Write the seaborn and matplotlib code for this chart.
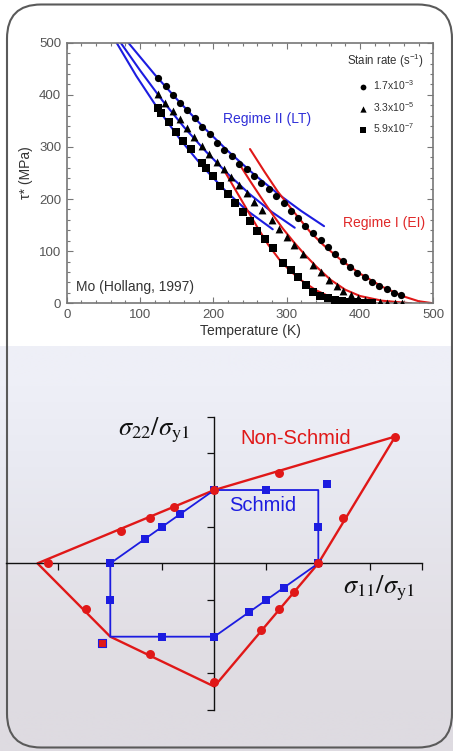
import numpy as np
import matplotlib
matplotlib.use('Agg')
import matplotlib.pyplot as plt
import seaborn as sns
from matplotlib.patches import FancyBboxPatch, Rectangle
from matplotlib.ticker import MultipleLocator
from matplotlib.colors import to_rgb

# ---------------- data : top panel (Mo, Hollang 1997) ----------------
temp_fast = [125, 135, 144.5, 155, 164.5, 175.5, 185, 195, 205, 215,
             225.5, 235.5, 245.5, 255.5, 265.5, 275.5, 286, 296, 306, 316,
             325.5, 336.5, 346.5, 356.5, 366.5, 376.5, 386.5, 396.5, 406.5, 416.5,
             426.5, 436.5, 446.5, 456.5]
tau_fast = [432, 417, 400, 385, 370, 355, 339, 324, 308, 295,
            282, 268, 257, 244, 231, 219, 206, 192, 178, 163,
            149, 134, 121, 108, 95, 81, 69, 59, 50, 40,
            33, 27, 20, 16]

temp_mid = [124, 134, 144.5, 154.5, 164.5, 174, 184.5, 194.5, 204.5, 214.5,
            224.5, 234.5, 245.5, 255.5, 266.5, 280, 290, 300, 310, 322,
            335.5, 346.5, 357.5, 368, 377.5, 387.5, 397.5, 407.5, 417.5, 427.5,
            437.5, 447.5, 457.5]
tau_mid = [401, 384, 369, 353, 337, 320, 302, 286, 271, 257,
           243, 227, 212, 195, 179, 159, 142, 128, 112, 95,
           74, 61, 45, 33, 24, 16, 11, 6, 3, 2,
           1.5, 1.5, 1.5]

temp_slow = [124, 129, 139, 149, 159, 169, 184.5, 190, 200, 209,
             219.5, 230, 240, 250, 259.5, 270.5, 281, 295.5, 305.5, 316,
             326, 336, 346, 356, 366, 376, 386, 396, 406, 416]
tau_slow = [374, 366, 348, 328, 312, 296, 270, 260, 244, 226,
            210, 193, 175, 157, 139, 123, 106, 78, 64, 50,
            35, 22, 14, 11, 6, 5, 3, 2, 1.5, 1.5]

rate_labels = ['1.7x10$^{-3}$', '3.3x10$^{-5}$', '5.9x10$^{-7}$']

# Regime II (LT) fits
lt_fast_T = [84, 120, 150, 185, 220, 255, 290, 320, 351]
lt_fast_tau = [500, 439, 392, 340, 292, 248, 208, 177, 148]
lt_mid_T = [73.6, 100, 130, 160, 190, 220, 250, 280, 311]
lt_mid_tau = [500, 447, 390, 338, 291, 248, 209, 175, 145]
lt_slow_T = [68, 95, 125, 155, 185, 215, 245, 281]
lt_slow_tau = [500, 436, 372, 314, 263, 218, 179, 142]

# Regime I (EI) fits
ei_fast_T = [250, 270, 288, 310, 332, 350, 375, 400, 430, 460, 480, 500]
ei_fast_tau = [296, 252, 214, 175, 137, 112, 82, 57, 32, 13, 4, 0]
ei_mid_T = [236, 250, 265, 280, 295, 310, 325, 340, 360, 380, 400, 430, 470]
ei_mid_tau = [266, 235, 203, 172, 143, 117, 93, 71, 45, 26, 14, 5, 0]
ei_slow_T = [216, 230, 245, 260, 275, 290, 305, 320, 340, 360, 385, 423]
ei_slow_tau = [252, 218, 182, 146, 112, 84, 62, 44, 25, 12, 4, 0]

temp_ticks = [0, 100, 200, 300, 400, 500]
tau_ticks = [0, 100, 200, 300, 400, 500]

# ---------------- data : bottom panel (yield surfaces) ----------------
schmid_x = [0, 1, 1, 0, -1, -1, 0]
schmid_y = [1, 1, 0, -1, -1, 0, 1]
schmid_pts_x = [0, 0.5, 1, 1, 0.67, 0.5, 0.33, 0, -0.5, -1, -1, -0.67, -0.5, -0.33, 1.08]
schmid_pts_y = [1, 1, 0.5, 0, -0.33, -0.5, -0.67, -1, -1, -0.5, 0, 0.33, 0.5, 0.67, 1.08]

nonschmid_x = [0, 1.74, 1, 0, -1, -1.70, 0]
nonschmid_y = [1, 1.73, 0, -1.68, -1, 0, 1]
nonschmid_pts_x = [0, 0.625, 1.737, 1.24, 1, 0.77, 0.625, 0.452, 0, -0.619, -1.237, -1.596, -0.897, -0.619, -0.385]
nonschmid_pts_y = [1, 1.236, 1.727, 0.614, 0, -0.386, -0.627, -0.909, -1.614, -1.236, -0.627, 0, 0.445, 0.614, 0.764]
nonschmid_sq_x = [-1.083]
nonschmid_sq_y = [-1.09]

stress_xticks = [-1.5, -0.5, 0.5, 1.5, 2]
stress_yticks = [-2, -1.5, -0.5, 0.5, 1.5, 2]

# ---------------- style ----------------
sns.set_style('ticks')
plt.rcParams['font.family'] = ['Liberation Sans', 'DejaVu Sans']
plt.rcParams['mathtext.fontset'] = 'custom'
plt.rcParams['mathtext.rm'] = 'Liberation Sans'
plt.rcParams['mathtext.it'] = 'Liberation Sans:italic'
plt.rcParams['mathtext.bf'] = 'Liberation Sans:bold'

BLUE = '#1c1ce0'
RED = '#e01818'

W, H = 453, 751
fig = plt.figure(figsize=(W / 100, H / 100), dpi=100)
fig.patch.set_facecolor('white')

# background: white upper card, sky-like lower region, rounded frame
bg = fig.add_axes([0, 0, 1, 1])
bg.set_zorder(0)
sky_stops = np.array([[to_rgb('#eeeff7')], [to_rgb('#e9eaf2')], [to_rgb('#e5e4eb')],
                      [to_rgb('#e2dfe5')], [to_rgb('#dedbe1')]])
bg.imshow(sky_stops, extent=[0, W, H, 346], aspect='auto', interpolation='bilinear')
bg.add_patch(Rectangle((0, 0), W, 346, facecolor='white', edgecolor='none'))
bg.add_patch(FancyBboxPatch((7, 4.5), 445, 743, boxstyle='round,pad=0,rounding_size=34',
                            fill=False, edgecolor='#5a5a5a', linewidth=1.5))
bg.set_xlim(0, W)
bg.set_ylim(H, 0)
bg.axis('off')

# ---------------- top panel ----------------
ax = fig.add_axes([66.7 / W, 1 - 303.3 / H, (433.3 - 66.7) / W, (303.3 - 42.7) / H])
ax.set_zorder(1)
ax.set_facecolor('white')

for T, tau in [(lt_fast_T, lt_fast_tau), (lt_mid_T, lt_mid_tau), (lt_slow_T, lt_slow_tau)]:
    sns.lineplot(x=T, y=tau, sort=False, estimator=None, color=BLUE, linewidth=1.5, ax=ax, zorder=2)
for T, tau in [(ei_fast_T, ei_fast_tau), (ei_mid_T, ei_mid_tau), (ei_slow_T, ei_slow_tau)]:
    sns.lineplot(x=T, y=tau, sort=False, estimator=None, color=RED, linewidth=1.5, ax=ax, zorder=2)

sns.scatterplot(x=temp_fast, y=tau_fast, marker='o', color='black', s=27, linewidth=0,
                ax=ax, label=rate_labels[0], zorder=3)
sns.scatterplot(x=temp_mid, y=tau_mid, marker='^', color='black', s=32, linewidth=0,
                ax=ax, label=rate_labels[1], zorder=3)
sns.scatterplot(x=temp_slow, y=tau_slow, marker='s', color='black', s=28, linewidth=0,
                ax=ax, label=rate_labels[2], zorder=3)

ax.set_xlim(0, 500)
ax.set_ylim(0, 500)
ax.set_xticks(temp_ticks)
ax.set_yticks(tau_ticks)
ax.xaxis.set_minor_locator(MultipleLocator(20))
ax.yaxis.set_minor_locator(MultipleLocator(20))
ax.tick_params(which='both', direction='in', top=True, right=True, colors='#777777',
               labelcolor='#555555', labelsize=9.5, width=0.8)
ax.tick_params(which='major', length=4, pad=4)
ax.tick_params(which='minor', length=2)
for sp in ax.spines.values():
    sp.set_color('#777777')
    sp.set_linewidth(1.2)
ax.set_xlabel('Temperature (K)', fontsize=10, color='#333333', labelpad=2)
ax.set_ylabel('τ* (MPa)', fontsize=10, color='#333333', labelpad=4)

ax.text(13, 32, 'Mo (Hollang, 1997)', fontsize=10, color='#333333', ha='left', va='center')
ax.text(273, 353, 'Regime II (LT)', fontsize=10, color='#3030d8', ha='center', va='center')
ax.text(433, 154, 'Regime I (EI)', fontsize=10, color='#e02828', ha='center', va='center')

leg = ax.legend(title='Stain rate (s$^{-1}$)', loc='upper right', frameon=False,
                fontsize=7.5, title_fontsize=8.3, handletextpad=0.4, handlelength=1.2,
                labelspacing=0.75, borderaxespad=0.5, markerscale=0.8)
for t in leg.get_texts():
    t.set_color('#333333')
leg.get_title().set_color('#333333')

# ---------------- bottom panel ----------------
ax2 = fig.add_axes([6.3 / W, 1 - 710 / H, 416 / W, 293.3 / H])
ax2.set_zorder(1)
ax2.patch.set_alpha(0)

sns.lineplot(x=nonschmid_x, y=nonschmid_y, sort=False, estimator=None, color=RED,
             linewidth=1.7, ax=ax2, zorder=2)
sns.lineplot(x=schmid_x, y=schmid_y, sort=False, estimator=None, color=BLUE,
             linewidth=1.3, ax=ax2, zorder=2)
sns.scatterplot(x=schmid_pts_x, y=schmid_pts_y, marker='s', color=BLUE, s=40,
                linewidth=0, ax=ax2, zorder=3)
sns.scatterplot(x=nonschmid_sq_x, y=nonschmid_sq_y, marker='s', color=RED, s=38,
                edgecolor=BLUE, linewidth=0.8, ax=ax2, zorder=3)
sns.scatterplot(x=nonschmid_pts_x, y=nonschmid_pts_y, marker='o', color=RED, s=42,
                linewidth=0, ax=ax2, zorder=4)

ax2.set_xlim(-2, 2)
ax2.set_ylim(-2, 2)
for s in ['top', 'right']:
    ax2.spines[s].set_visible(False)
ax2.spines['left'].set_position(('data', 0))
ax2.spines['bottom'].set_position(('data', 0))
for s in ['left', 'bottom']:
    ax2.spines[s].set_color('#111111')
    ax2.spines[s].set_linewidth(1.0)
ax2.set_xticks(stress_xticks)
ax2.set_yticks(stress_yticks)
ax2.tick_params(axis='both', direction='out', length=5, width=0.9, colors='#111111',
                labelbottom=False, labelleft=False)

ax2.text(0.247, 1.705, 'Non-Schmid', fontsize=14.5, color=RED, ha='left', va='center')
ax2.text(0.47, 0.786, 'Schmid', fontsize=14.5, color=BLUE, ha='center', va='center')
ax2.text(-0.925, 1.75, r'$\sigma_{\mathrm{22}}/\sigma_{\mathrm{y1}}$', fontsize=19,
         color='#111111', ha='left', va='baseline', math_fontfamily='stix')
ax2.text(1.24, -0.41, r'$\sigma_{\mathrm{11}}/\sigma_{\mathrm{y1}}$', fontsize=19,
         color='#111111', ha='left', va='baseline', math_fontfamily='stix')

fig.savefig('out.png', dpi=100)
